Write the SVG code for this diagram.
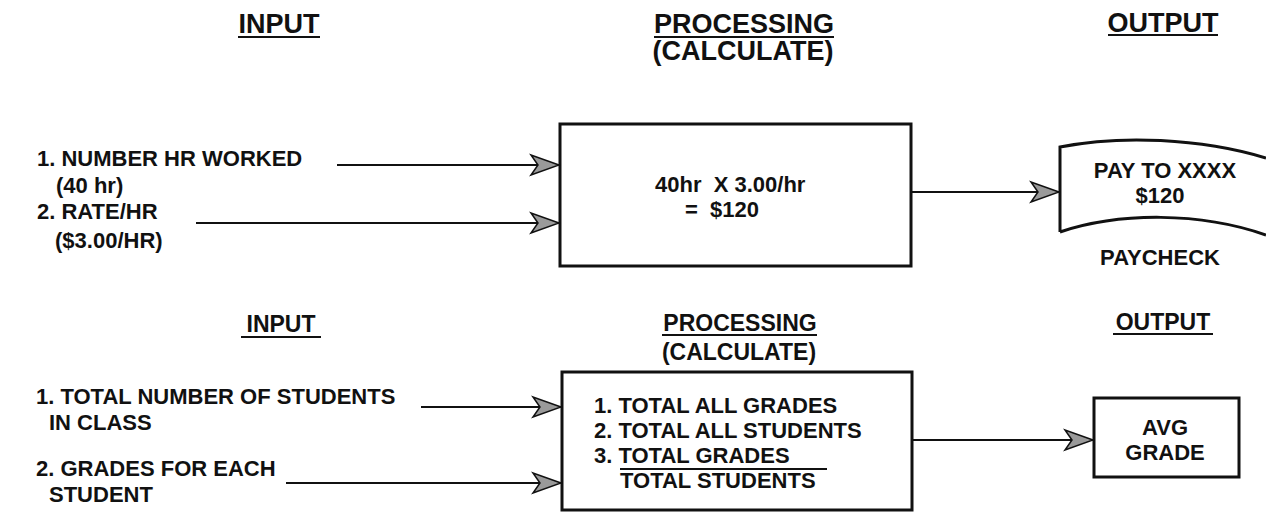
<svg xmlns="http://www.w3.org/2000/svg" width="1266" height="512" viewBox="0 0 1266 512">
<style>
text{font-family:"Liberation Sans",Arial,sans-serif;font-weight:bold;fill:#111}
.h1{font-size:27px}
.h2{font-size:23px}
.t{font-size:22px}
.m{text-anchor:middle}
.ul{stroke:#111;stroke-width:2}
.box{fill:none;stroke:#111;stroke-width:3}
.conn{stroke:#111;stroke-width:1.8;fill:none;marker-end:url(#ah)}
</style>
<defs>
<marker id="ah" markerUnits="userSpaceOnUse" viewBox="-30 -12 32 24" markerWidth="32" markerHeight="24" refX="0" refY="0" orient="auto">
<path d="M0,0 L-28,-10 L-21,0 L-28,10 Z" fill="#9a9a9a" stroke="#111" stroke-width="1.5" stroke-linejoin="miter"/>
</marker>
</defs>
<rect width="1266" height="512" fill="#fff"/>

<g id="top-input-header">
<text class="h1 m" x="279" y="33">INPUT</text>
<line class="ul" x1="238" y1="37" x2="320" y2="37"/>
</g>
<g id="top-processing-header">
<text class="h1 m" x="744" y="33">PROCESSING</text>
<line class="ul" x1="654" y1="37" x2="834" y2="37"/>
<text class="h1 m" x="743" y="60">(CALCULATE)</text>
</g>
<g id="top-output-header">
<text class="h1 m" x="1163" y="32">OUTPUT</text>
<line class="ul" x1="1108" y1="35" x2="1218" y2="35"/>
</g>

<g id="top-input1">
<text class="t" x="37" y="166">1. NUMBER HR WORKED</text>
<text class="t" x="56" y="193">(40 hr)</text>
</g>
<g id="top-input2">
<text class="t" x="37" y="219">2. RATE/HR</text>
<text class="t" x="55" y="248">($3.00/HR)</text>
</g>
<g id="top-process">
<rect class="box" x="560" y="124" width="351" height="142"/>
<text class="t" x="655" y="192" xml:space="preserve">40hr  X 3.00/hr</text>
<text class="t" x="685" y="217" xml:space="preserve">=  $120</text>
</g>
<g id="top-output">
<path d="M1060,232 L1060,147 C1120,135 1200,138 1266,158 M1060,232 C1120,212 1200,212 1266,235" fill="none" stroke="#111" stroke-width="3"/>
<text class="t m" x="1165" y="178">PAY TO XXXX</text>
<text class="t m" x="1160" y="203">$120</text>
<text class="t m" x="1160" y="265">PAYCHECK</text>
</g>

<g id="bottom-input-header">
<text class="h2 m" x="281" y="332">INPUT</text>
<line class="ul" x1="241" y1="337" x2="321" y2="337"/>
</g>
<g id="bottom-processing-header">
<text class="h2 m" x="740" y="331">PROCESSING</text>
<line class="ul" x1="662" y1="335" x2="817" y2="335"/>
<text class="h2 m" x="739" y="360">(CALCULATE)</text>
</g>
<g id="bottom-output-header">
<text class="h2 m" x="1163" y="330">OUTPUT</text>
<line class="ul" x1="1113" y1="334" x2="1213" y2="334"/>
</g>

<g id="bottom-input1">
<text class="t" x="36" y="404">1. TOTAL NUMBER OF STUDENTS</text>
<text class="t" x="49" y="430">IN CLASS</text>
</g>
<g id="bottom-input2">
<text class="t" x="36" y="476">2. GRADES FOR EACH</text>
<text class="t" x="49" y="502">STUDENT</text>
</g>
<g id="bottom-process">
<rect class="box" x="562" y="372" width="350" height="138"/>
<text class="t" x="594" y="413">1. TOTAL ALL GRADES</text>
<text class="t" x="594" y="438">2. TOTAL ALL STUDENTS</text>
<text class="t" x="594" y="463">3. TOTAL GRADES</text>
<line class="ul" x1="620" y1="469" x2="827" y2="469"/>
<text class="t" x="620" y="488">TOTAL STUDENTS</text>
</g>
<g id="bottom-output">
<rect class="box" x="1094" y="398" width="145" height="79"/>
<text class="t m" x="1165" y="435">AVG</text>
<text class="t m" x="1165" y="460">GRADE</text>
</g>

<g id="connectors">
<line class="conn" x1="337" y1="165" x2="559" y2="165"/>
<line class="conn" x1="196" y1="223" x2="559" y2="223"/>
<line class="conn" x1="912" y1="192" x2="1059" y2="192"/>
<line class="conn" x1="421" y1="407" x2="561" y2="407"/>
<line class="conn" x1="286" y1="483" x2="561" y2="483"/>
<line class="conn" x1="913" y1="440" x2="1093" y2="440"/>
</g>
</svg>
